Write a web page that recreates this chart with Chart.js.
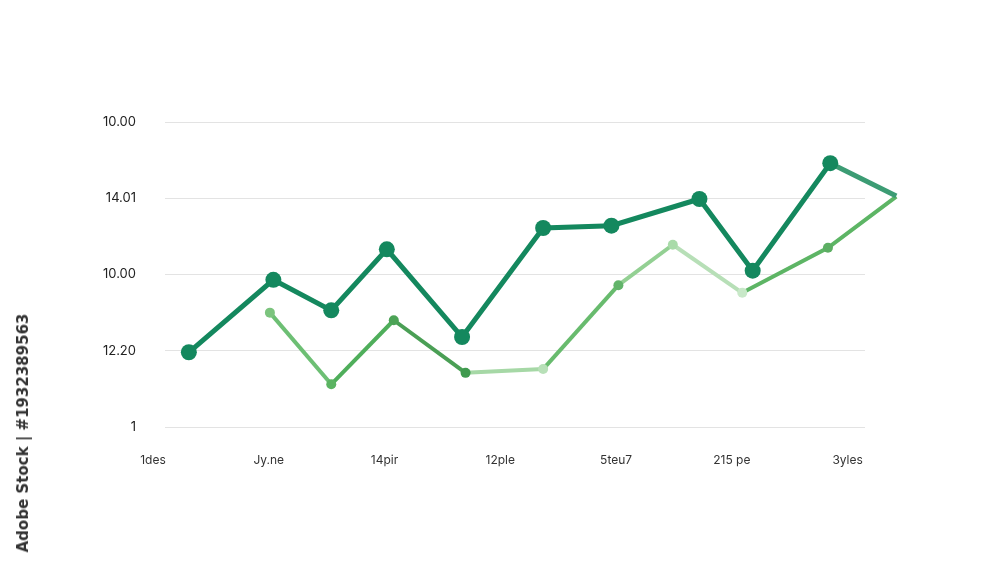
<!DOCTYPE html>
<html>
<head>
<meta charset="utf-8">
<script src="https://cdn.jsdelivr.net/npm/chart.js@4/dist/chart.umd.min.js"></script>
<style>
  html, body { margin: 0; padding: 0; background: #fff; }
  #wrap { position: relative; width: 1000px; height: 563px; }
  #side {
    position: absolute; left: 23px; top: 433px;
    transform: translate(-50%, -50%) rotate(-90deg);
    font: 600 15px "DejaVu Sans", sans-serif; color: #333; white-space: nowrap;
  }
</style>
</head>
<body>
<div id="wrap">
  <canvas id="lineChart" width="1000" height="563"></canvas>
  <div id="side">Adobe Stock | #1932389563</div>
</div>
<script>
// tick labels (as printed on the picture)
var xLabels = ["1des", "Jy.ne", "14pir", "12ple", "5teu7", "215 pe", "3yles"];
var yLabels = ["1", "12.20", "10.00", "14.01", "10.00"];

// dark series: positions along the label axis and values in grid steps
var darkX = [0.31, 1.04, 1.54, 2.02, 2.67, 3.37, 3.96, 4.72, 5.18, 5.85, 6.42];
var darkY = [0.98, 1.93, 1.53, 2.33, 1.18, 2.61, 2.64, 2.99, 2.05, 3.46, 3.03];

// light series
var lightX = [1.01, 1.54, 2.08, 2.70, 3.37, 4.02, 4.49, 5.09, 5.83, 6.42];
var lightY = [1.50, 0.56, 1.40, 0.71, 0.76, 1.86, 2.39, 1.76, 2.35, 3.02];

function pts(xs, ys) {
  return xs.map(function (x, i) { return { x: x, y: ys[i] }; });
}

var lightSeg = ["#6dbf74", "#4fae5b", "#4a9f55", "#a6d8a6", "#68bb6e", "#93d093", "#b7dfb7", "#5db565", "#5db565"];
var lightPt = ["#7cc47e", "#5bb462", "#4ca356", "#3f9a4e", "#b8e0b8", "#62b46a", "#a9dba9", "#c8e8c8", "#5cae63", "#5cb465"];

var ctx = document.getElementById("lineChart").getContext("2d");
var lineChart = new Chart(ctx, {
  type: "line",
  data: {
    datasets: [{
      data: pts(darkX, darkY),
      borderColor: "#14885e",
      backgroundColor: "#14885e",
      borderWidth: 5,
      pointRadius: [8, 8, 8, 8, 8, 8, 8, 8, 8, 8, 0],
      pointHoverRadius: 8,
      pointBorderWidth: 0,
      clip: false,
      segment: {
        borderColor: function (c) { return c.p0DataIndex === 9 ? "#3c9c74" : "#14885e"; }
      }
    }, {
      data: pts(lightX, lightY),
      borderColor: "#5db565",
      backgroundColor: lightPt,
      borderWidth: 4,
      pointRadius: 5,
      pointBorderWidth: 0,
      clip: false,
      segment: {
        borderColor: function (c) { return lightSeg[c.p0DataIndex]; }
      }
    }]
  },
  options: {
    responsive: false,
    animation: false,
    layout: { padding: { top: 122, right: 135, bottom: 96, left: 0 } },
    plugins: { legend: { display: false }, tooltip: { enabled: false } },
    scales: {
      x: {
        type: "linear",
        min: 0.104,
        max: 6.15,
        grid: { display: false },
        border: { display: false },
        afterBuildTicks: function (scale) {
          scale.ticks = xLabels.map(function (l, i) { return { value: i }; });
        },
        afterFit: function (scale) { scale.height = 40; },
        ticks: {
          autoSkip: false,
          maxRotation: 0,
          padding: 18,
          color: "#333",
          font: { family: "Inter", size: 12 },
          callback: function (v, i) { return xLabels[i]; }
        }
      },
      y: {
        min: 0,
        max: 4,
        grid: { color: "#e3e3e3", lineWidth: 1, drawTicks: false },
        border: { display: false },
        afterFit: function (scale) { scale.width = 165; },
        ticks: {
          stepSize: 1,
          padding: 29,
          color: "#222",
          font: { family: "Inter", size: 13 },
          callback: function (v, i) { return yLabels[i]; }
        }
      }
    }
  }
});
</script>
</body>
</html>
